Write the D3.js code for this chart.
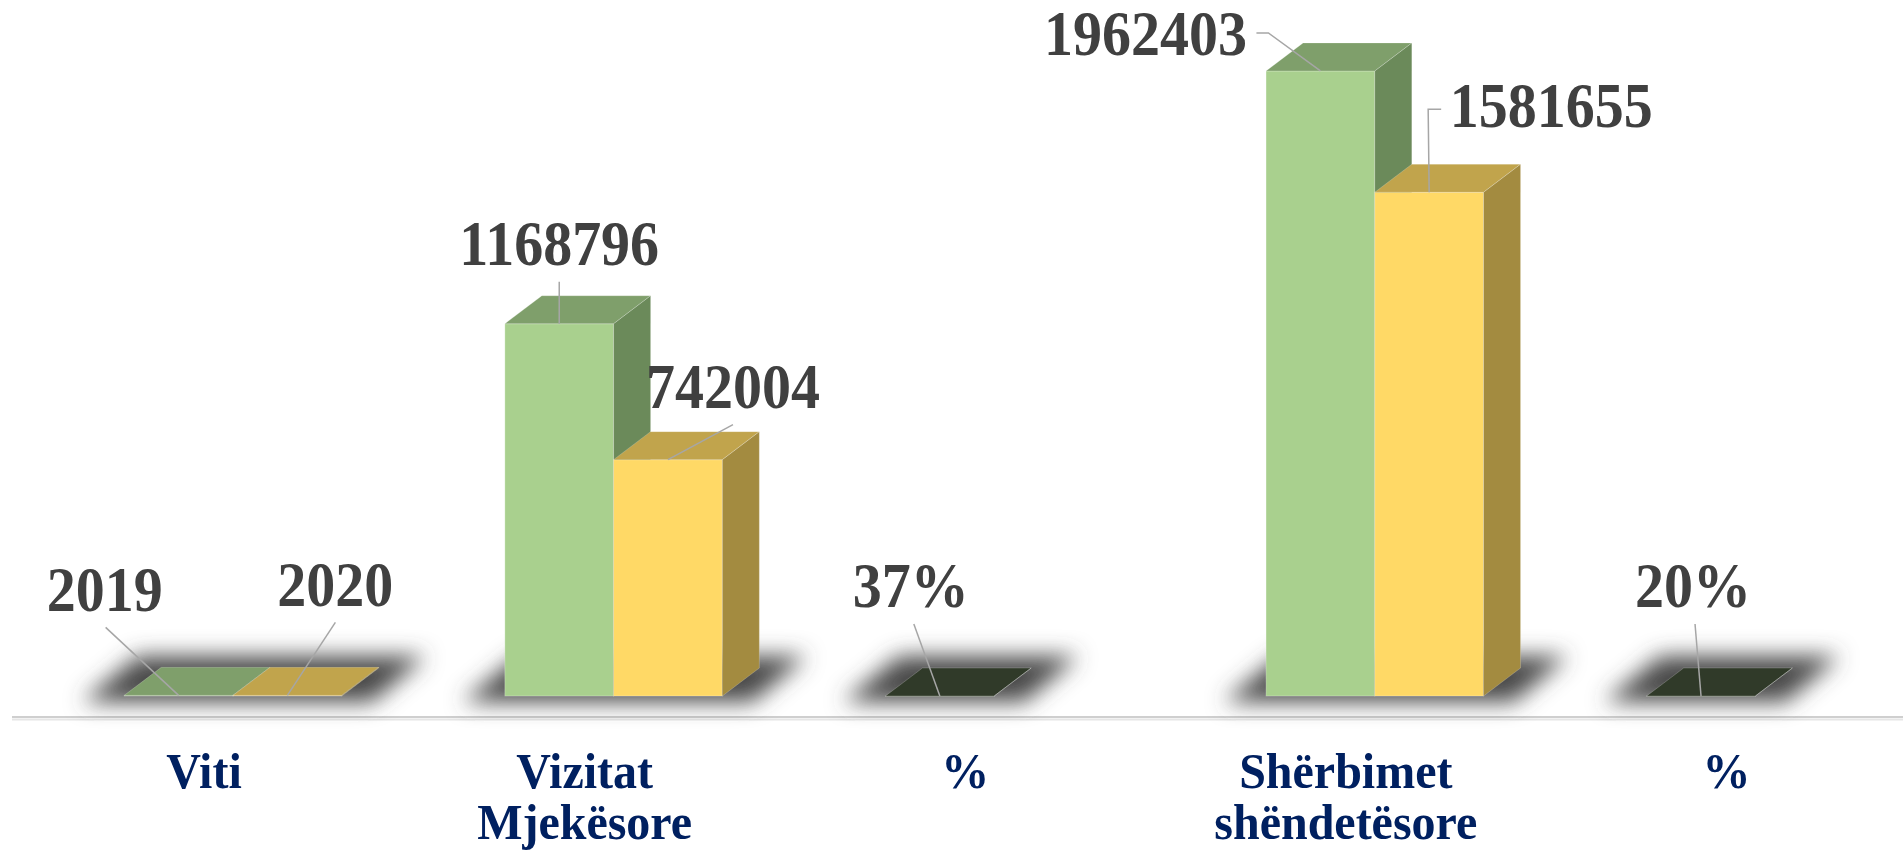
<!DOCTYPE html>
<html>
<head>
<meta charset="utf-8">
<script src="https://cdn.jsdelivr.net/npm/d3@7"></script>
<style>
  html, body { margin: 0; padding: 0; background: #ffffff; }
  #chart { width: 1903px; height: 852px; }
</style>
</head>
<body>
<div id="chart"></div>
<script>
// ==========================================================================
// DADOS
// ==========================================================================

const categories = ['Viti', 'Vizitat\nMjekësore', '%', 'Shërbimet\nshëndetësore', '%'];
const series = ['2019', '2020'];
const values2019 = [2019, 1168796, 0.37, 1962403, 0.20];
const values2020 = [2020, 742004, null, 1581655, null];
const labels2019 = ['2019', '1168796', '37%', '1962403', '20%'];
const labels2020 = ['2020', '742004', null, '1581655', null];

// ==========================================================================
// CONFIGURAÇÕES
// ==========================================================================

const CONFIG = {
    width: 1903,
    height: 852,
    floorY: 696,
    topY: 59,
    yMax: 2000000,
    depthX: 37,
    depthY: -28,
    font: '"Liberation Serif", "Times New Roman", serif',
    colors: {
        '2019': { front: '#A9D08E', top: '#7F9F6B', side: '#6B8A5A' },
        '2020': { front: '#FFD966', top: '#C1A44C', side: '#A38B40' },
        pct:    { front: '#3A4530', top: '#303A29', side: '#283022' }
    },
    labelColor: '#404040',
    categoryColor: '#002060',
    leaderColor: '#A6A6A6'
};

// posição manual dos rótulos (como no Excel): [dx, dy] do texto e pontos da linha guia
const labelLayout = {
    '2019': [
        { dx: -74, dy: -84, path: [[-73, -68]] },
        { dx: 0, dy: -59, path: [[0, -42]] },
        { dx: -29, dy: -89, path: [[-26, -72]] },
        { dx: -175, dy: -16, path: [[-52, -38], [-64, -38]] },
        { dx: -8, dy: -89, path: [[-6, -72]] }
    ],
    '2020': [
        { dx: 48, dy: -89, path: [[48, -73]] },
        { dx: 65, dy: -52, path: [[65, -35]] },
        null,
        { dx: 122, dy: -65, path: [[-1, -83], [12, -83]] },
        null
    ]
};

// ==========================================================================
// RENDERIZAÇÃO
// ==========================================================================

const svg = d3.select('#chart')
    .append('svg')
    .attr('width', CONFIG.width)
    .attr('height', CONFIG.height);

const defs = svg.append('defs');
defs.append('filter')
    .attr('id', 'soft-shadow')
    .attr('x', '-30%').attr('y', '-150%')
    .attr('width', '160%').attr('height', '400%')
    .append('feGaussianBlur')
    .attr('stdDeviation', 11);

const x0 = d3.scaleBand()
    .domain(d3.range(categories.length))
    .range([42.7, 1945.7])
    .paddingInner(0.4286)
    .paddingOuter(0.2143);

const x1 = d3.scaleBand()
    .domain(series)
    .range([0, x0.bandwidth()]);

const y = d3.scaleLinear()
    .domain([0, CONFIG.yMax])
    .range([CONFIG.floorY, CONFIG.topY]);

const valuesBySeries = { '2019': values2019, '2020': values2020 };
const labelsBySeries = { '2019': labels2019, '2020': labels2020 };

const bars = [];
categories.forEach((c, i) => {
    series.forEach(s => {
        const v = valuesBySeries[s][i];
        if (v === null) return;
        bars.push({
            i, s, v,
            label: labelsBySeries[s][i],
            layout: labelLayout[s][i],
            colors: categories[i] === '%' ? CONFIG.colors.pct : CONFIG.colors[s]
        });
    });
});

const DX = CONFIG.depthX, DY = CONFIG.depthY;
const bw = x1.bandwidth();
const bx = d => x0(d.i) + x1(d.s);
const pts = arr => arr.map(p => p.join(',')).join(' ');

// linha de base
svg.append('line')
    .attr('x1', 12).attr('x2', CONFIG.width)
    .attr('y1', 717).attr('y2', 717)
    .style('stroke', '#CFCFCF').style('stroke-width', 2);
svg.append('line')
    .attr('x1', 12).attr('x2', CONFIG.width)
    .attr('y1', 719.5).attr('y2', 719.5)
    .style('stroke', '#E6E6E6').style('stroke-width', 2);

// sombras
const shadowLayer = svg.append('g')
    .attr('filter', 'url(#soft-shadow)')
    .style('fill', '#4A4A4A');

shadowLayer.selectAll('polygon')
    .data(bars)
    .enter().append('polygon')
    .attr('points', d => {
        const x = bx(d), yb = y(0);
        return pts([
            [x - 42, yb + 6],
            [x + bw + 30, yb + 6],
            [x + bw + 84, yb - 40],
            [x + 14, yb - 40]
        ]);
    });

// barras 3D
const barGroups = svg.append('g').attr('class', 'bars')
    .selectAll('g')
    .data(bars)
    .enter().append('g');

barGroups.append('rect')
    .attr('x', d => bx(d))
    .attr('y', d => y(d.v))
    .attr('width', bw)
    .attr('height', d => Math.max(0.5, y(0) - y(d.v)))
    .style('fill', d => d.colors.front)
    .style('stroke', 'rgba(255,255,255,0.25)')
    .style('stroke-width', 1);

barGroups.append('polygon')
    .attr('points', d => {
        const x = bx(d), yt = y(d.v);
        return pts([[x, yt], [x + bw, yt], [x + bw + DX, yt + DY], [x + DX, yt + DY]]);
    })
    .style('fill', d => d.colors.top)
    .style('stroke', 'rgba(255,255,255,0.2)')
    .style('stroke-width', 1);

barGroups.append('polygon')
    .attr('points', d => {
        const x = bx(d) + bw, yt = y(d.v), yb = y(0);
        return pts([[x, yt], [x + DX, yt + DY], [x + DX, yb + DY], [x, yb]]);
    })
    .style('fill', d => d.colors.side)
    .style('stroke', 'rgba(255,255,255,0.2)')
    .style('stroke-width', 1);

// rótulos de valores e linhas guia
const labelGroups = svg.append('g').attr('class', 'value-labels')
    .selectAll('g')
    .data(bars.filter(d => d.label && d.layout))
    .enter().append('g');

labelGroups.append('polyline')
    .attr('points', d => {
        const ax = bx(d) + bw / 2, ay = y(d.v);
        return pts([[ax, ay]].concat(d.layout.path.map(p => [ax + p[0], ay + p[1]])));
    })
    .style('fill', 'none')
    .style('stroke', CONFIG.leaderColor)
    .style('stroke-width', 1.5);

labelGroups.append('text')
    .attr('transform', d =>
        `translate(${bx(d) + bw / 2 + d.layout.dx},${y(d.v) + d.layout.dy}) scale(1,1.08)`)
    .attr('text-anchor', 'middle')
    .style('font-family', CONFIG.font)
    .style('font-weight', 'bold')
    .style('font-size', '58px')
    .style('fill', CONFIG.labelColor)
    .text(d => d.label);

// rótulos das categorias
const catLabels = svg.append('g').attr('class', 'x-axis')
    .selectAll('text')
    .data(categories)
    .enter().append('text')
    .attr('text-anchor', 'middle')
    .attr('transform', (d, i) => `translate(${x0(i) + x0.bandwidth() / 2 - 29},788) scale(1,1.04)`)
    .style('font-family', CONFIG.font)
    .style('font-weight', 'bold')
    .style('font-size', '48px')
    .style('fill', CONFIG.categoryColor);

catLabels.each(function(d) {
    const t = d3.select(this);
    d.split('\n').forEach((line, k) => {
        t.append('tspan')
            .attr('x', 0)
            .attr('dy', k === 0 ? 0 : 49)
            .text(line);
    });
});
</script>
</body>
</html>
